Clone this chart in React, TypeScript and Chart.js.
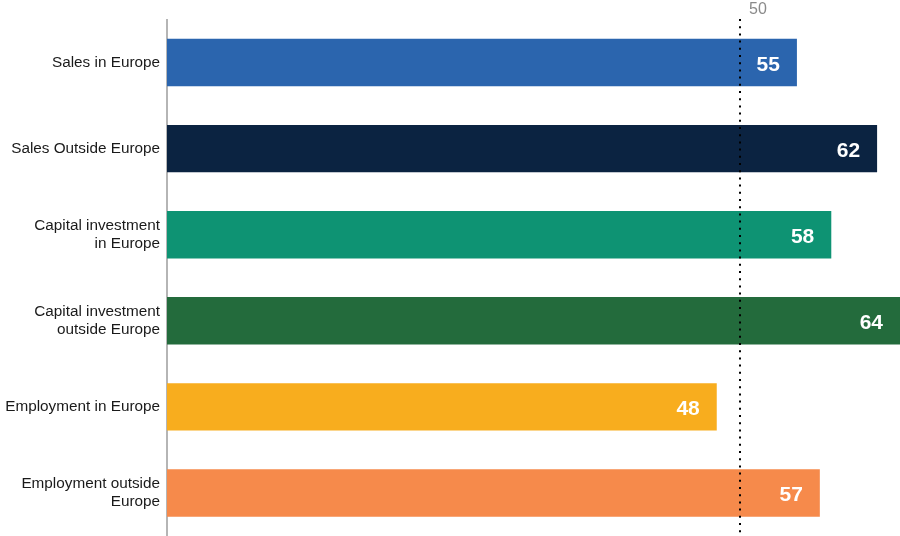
import React, { useEffect, useRef } from "react";
import { Chart, registerables } from "chart.js";

Chart.register(...registerables);

const categories: (string | string[])[] = [
  "Sales in Europe",
  "Sales Outside Europe",
  ["Capital investment", "in Europe"],
  ["Capital investment", "outside Europe"],
  "Employment in Europe",
  ["Employment outside", "Europe"],
];
const values = [55, 62, 58, 64, 48, 57];
const barColors = ["#2b65ae", "#0b2341", "#0e9373", "#236b3c", "#f8ad1e", "#f68a4b"];
const referenceValue = 50;
const referenceLabel = "50";

const FONT = '"Liberation Sans", Arial, Helvetica, sans-serif';

const refLinePlugin = {
  id: "refLine",
  afterDatasetsDraw(chart: any) {
    const { ctx, scales } = chart;
    const x = Math.round(scales.x.getPixelForValue(referenceValue));
    ctx.save();
    ctx.strokeStyle = "#000";
    ctx.lineWidth = 2;
    ctx.setLineDash([2, 5.2]);
    ctx.beginPath();
    ctx.moveTo(x, 19);
    ctx.lineTo(x, chart.height);
    ctx.stroke();
    ctx.setLineDash([]);
    ctx.fillStyle = "#8a8a8a";
    ctx.font = "16px " + FONT;
    ctx.textAlign = "left";
    ctx.textBaseline = "middle";
    ctx.fillText(referenceLabel, x + 9, 10);
    ctx.restore();
  },
};

const valueLabelPlugin = {
  id: "valueLabels",
  afterDatasetsDraw(chart: any) {
    const { ctx } = chart;
    const meta = chart.getDatasetMeta(0);
    ctx.save();
    ctx.fillStyle = "#ffffff";
    ctx.font = "bold 21px " + FONT;
    ctx.textAlign = "right";
    ctx.textBaseline = "middle";
    meta.data.forEach((bar: any, i: number) => {
      ctx.fillText(String(values[i]), bar.x - 17, bar.y + 2.5);
    });
    ctx.restore();
  },
};

export default function App() {
  const ref = useRef<HTMLCanvasElement>(null);
  useEffect(() => {
    if (!ref.current) return;
    const chart = new Chart(ref.current, {
      type: "bar",
      data: {
        labels: categories,
        datasets: [
          {
            data: values,
            backgroundColor: barColors,
            borderWidth: 0,
            barPercentage: 0.55,
            categoryPercentage: 1,
          },
        ],
      },
      options: {
        indexAxis: "y",
        animation: false,
        responsive: false,
        maintainAspectRatio: false,
        layout: { padding: { top: 19.5, right: 0, bottom: 0, left: 0 } },
        plugins: { legend: { display: false }, tooltip: { enabled: false } },
        scales: {
          x: { display: false, min: 0, max: 64 },
          y: {
            grid: { display: false, drawTicks: false },
            border: { display: true, color: "#b5b5b5", width: 2 },
            ticks: {
              color: "#1a1a1a",
              padding: 7,
              font: { size: 15.3, family: FONT, lineHeight: 1.18 },
            },
            afterFit(scale: any) {
              scale.width = 167;
              scale.paddingTop = 0;
              scale.paddingBottom = 0;
            },
          },
        },
      },
      plugins: [refLinePlugin, valueLabelPlugin],
    } as any);
    return () => chart.destroy();
  }, []);
  return (
    <div style={{ position: "absolute", left: 0, top: 0, width: 900, height: 536, background: "#fff" }}>
      <canvas ref={ref} width={900} height={536} />
    </div>
  );
}
